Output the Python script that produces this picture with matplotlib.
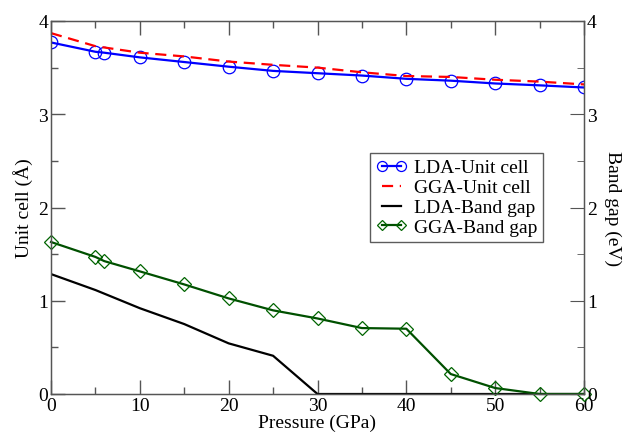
import matplotlib
matplotlib.use("Agg")
import matplotlib.pyplot as plt
from matplotlib.ticker import MultipleLocator

plt.rcParams['font.family'] = ['Liberation Serif', 'DejaVu Serif']
plt.rcParams['mathtext.fontset'] = 'stix'

# Data
p_lda_cell = [0, 5, 6, 10, 15, 20, 25, 30, 35, 40, 45, 50, 55, 60]
lda_cell = [3.77, 3.67, 3.66, 3.61, 3.56, 3.51, 3.465, 3.44, 3.415, 3.38, 3.36, 3.33, 3.31, 3.287]

p_gga_cell = [0, 5, 10, 15, 20, 25, 30, 35, 40, 45, 50, 55, 60]
gga_cell = [3.87, 3.73, 3.66, 3.62, 3.565, 3.53, 3.50, 3.45, 3.41, 3.40, 3.37, 3.35, 3.32]

p_lda_gap = [0, 5, 10, 15, 20, 25, 30, 35, 40, 45, 50, 55, 60]
lda_gap = [1.286, 1.115, 0.92, 0.75, 0.543, 0.41, 0.0, 0.0, 0.0, 0.0, 0.0, 0.0, 0.0]

p_gga_gap = [0, 5, 6, 10, 15, 20, 25, 30, 35, 40, 45, 50, 55, 60]
gga_gap = [1.63, 1.47, 1.425, 1.315, 1.175, 1.025, 0.897, 0.81, 0.707, 0.70, 0.214, 0.064, 0.0, 0.0]

fig = plt.figure(figsize=(6.26, 4.35), dpi=100)
ax = fig.add_axes([51/626, 1 - 395/435, 533/626, 373/435])

ax.plot(p_lda_cell, lda_cell, color='#0000ff', lw=1.6, marker='o', ms=9,
        mfc='none', mec='#0000ff', mew=0.9, label='LDA-Unit cell')
ax.plot(p_gga_cell, gga_cell, color='#ff0000', lw=1.6, ls=(0, (5, 3)),
        label='GGA-Unit cell')
ax.plot(p_lda_gap, lda_gap, color='black', lw=1.6, label='LDA-Band gap')
ax.plot(p_gga_gap, gga_gap, color='#005000', lw=1.6, marker='D', ms=7,
        mfc='none', mec='#006400', mew=0.9, label='GGA-Band gap', clip_on=False)

ax.set_xlim(0, 60)
ax.set_ylim(0, 4)
ax.xaxis.set_major_locator(MultipleLocator(10))
ax.xaxis.set_minor_locator(MultipleLocator(5))
ax.yaxis.set_major_locator(MultipleLocator(1))
ax.yaxis.set_minor_locator(MultipleLocator(0.5))
ax.tick_params(which='both', direction='in', top=True, right=True,
               labelsize=14, color='#555555', width=1.0, pad=2)
ax.tick_params(which='major', length=10)
ax.tick_params(which='minor', length=5)
for s in ax.spines.values():
    s.set_color('#555555')
    s.set_linewidth(1.0)

ax.set_xlabel('Pressure (GPa)', fontsize=14, labelpad=0)
ax.set_ylabel('Unit cell (Å)', fontsize=14, labelpad=4)

ax2 = ax.twinx()
ax2.set_ylim(0, 4)
ax2.yaxis.set_major_locator(MultipleLocator(1))
ax2.yaxis.set_minor_locator(MultipleLocator(0.5))
ax2.tick_params(which='both', direction='in', labelsize=14, color='#555555', pad=2)
ax2.tick_params(which='major', length=10)
ax2.tick_params(which='minor', length=5)
for s in ax2.spines.values():
    s.set_color('#555555')
ax2.set_ylabel('Band gap (eV)', fontsize=14, rotation=270, labelpad=18)

leg = ax.legend(loc='upper left', bbox_to_anchor=((370 - 51) / 533, (395 - 154) / 373),
                borderaxespad=0, fontsize=14, frameon=True, fancybox=False,
                edgecolor='#333333', handlelength=1.6, handletextpad=0.35,
                labelspacing=0.12, borderpad=0.3, numpoints=2, markerscale=0.8)
leg.get_frame().set_linewidth(1.0)

fig.savefig('out.png', dpi=100)
